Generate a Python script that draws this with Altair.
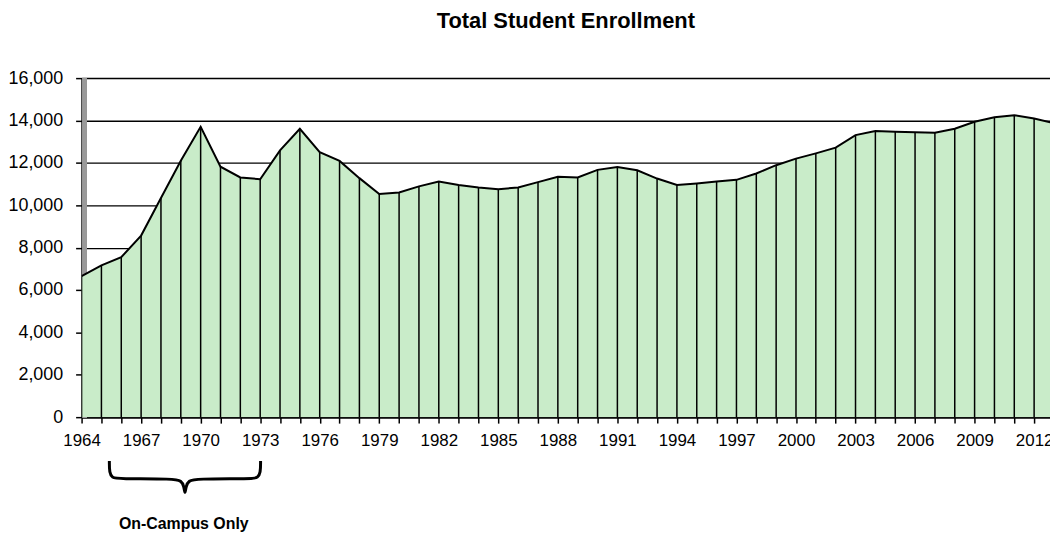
import altair as alt
import pandas as pd

years = list(range(1964, 2014))
enrollment = [6650, 7160, 7550, 8570, 10340, 12100, 13700, 11820, 11310, 11230,
              12590, 13610, 12510, 12090, 11280, 10530, 10600, 10890, 11120, 10960,
              10840, 10760, 10840, 11090, 11340, 11310, 11670, 11810, 11650, 11260,
              10960, 11030, 11120, 11200, 11500, 11890, 12200, 12450, 12720, 13310,
              13500, 13470, 13450, 13420, 13610, 13940, 14150, 14250, 14090, 13870]

y_ticks = list(range(0, 16001, 2000))
tick_years = list(range(1964, 2013))

# brace annotation shape (year, value units) under the axis
brace_x = [1965.40, 1965.40, 1965.55, 1965.80, 1968.71, 1969.01, 1969.16, 1969.21,
           1969.26, 1969.41, 1969.71, 1972.62, 1972.87, 1973.02, 1973.02]
brace_y = [-2064, -2628, -2862, -2909, -2909, -3003, -3237, -3707,
           -3237, -3003, -2909, -2909, -2862, -2628, -2064]
note_text = "On-Campus Only"

df = pd.DataFrame({"year": years, "enrollment": enrollment})
brace = pd.DataFrame({"x": brace_x, "y": brace_y, "i": list(range(len(brace_x)))})

xscale = alt.Scale(domain=[1964, 2012.8], nice=False, zero=False)
yscale = alt.Scale(domain=[0, 16000], nice=False)

label_expr = "(datum.value - 1964) % 3 == 0 ? format(datum.value, 'd') : ''"

x_axis = alt.Axis(values=tick_years, labelExpr=label_expr, title=None,
                  grid=False, labelFontSize=17, labelColor="black",
                  labelFont="Liberation Sans", tickColor="black",
                  tickSize=6, tickWidth=1.5, domainColor="black",
                  domainWidth=1.5, labelPadding=10, labelOverlap=False,
                  labelFlush=False, labelBound=False)
y_axis = alt.Axis(values=y_ticks, format=",d", title=None, grid=True,
                  gridColor="black", gridWidth=1.5, gridOpacity=1,
                  labelFontSize=18, labelColor="black",
                  labelFont="Liberation Sans", tickColor="black",
                  tickSize=6, tickWidth=1.5, domainColor="black",
                  domainWidth=1.5, labelPadding=13, labelOverlap=False)

base = alt.Chart(df)

wall = alt.Chart(df).mark_rule(color="#9a9a9a", strokeWidth=3.5).encode(
    x=alt.datum(1964.15, scale=xscale, axis=x_axis),
    y=alt.datum(0, scale=yscale, axis=y_axis),
    y2=alt.datum(16000),
)

area = base.mark_area(
    color="#c9ecc9", opacity=1, clip=True, line={"color": "black", "strokeWidth": 2}
).encode(
    x=alt.X("year:Q", scale=xscale, axis=x_axis),
    y=alt.Y("enrollment:Q", scale=yscale, axis=y_axis),
)

drops = base.mark_rule(color="black", strokeWidth=1.5, clip=True).encode(
    x=alt.X("year:Q", scale=xscale, axis=x_axis),
    y=alt.Y("enrollment:Q", scale=yscale, axis=y_axis),
    y2=alt.datum(0),
)

brace_line = alt.Chart(brace).mark_line(
    color="black", strokeWidth=3, interpolate="basis", clip=False
).encode(
    x=alt.X("x:Q", scale=xscale, axis=x_axis),
    y=alt.Y("y:Q", scale=yscale, axis=y_axis),
    order="i:Q",
)

note = alt.Chart(pd.DataFrame({"t": [note_text]})).mark_text(
    font="Liberation Sans", fontWeight="bold", fontSize=16, color="black",
    baseline="middle", align="center"
).encode(
    x=alt.datum(1969.15, scale=xscale, axis=x_axis),
    y=alt.datum(-5050, scale=yscale, axis=y_axis),
    text="t:N",
)

chart = alt.layer(wall, area, drops, brace_line, note).properties(
    width=974,
    height=341,
    padding={"left": 74, "top": 69, "right": 0, "bottom": 116},
    autosize=alt.AutoSizeParams(type="none"),
    title=alt.TitleParams("Total Student Enrollment", font="Liberation Sans",
                          fontSize=22, fontWeight="bold", color="black",
                          anchor="middle", offset=36),
).configure_view(stroke="black", strokeWidth=1.5).configure(
    background="white"
).configure_axisX(labelOverlap=False)

chart.save("out.html", embed_options={"renderer": "svg", "actions": False})
